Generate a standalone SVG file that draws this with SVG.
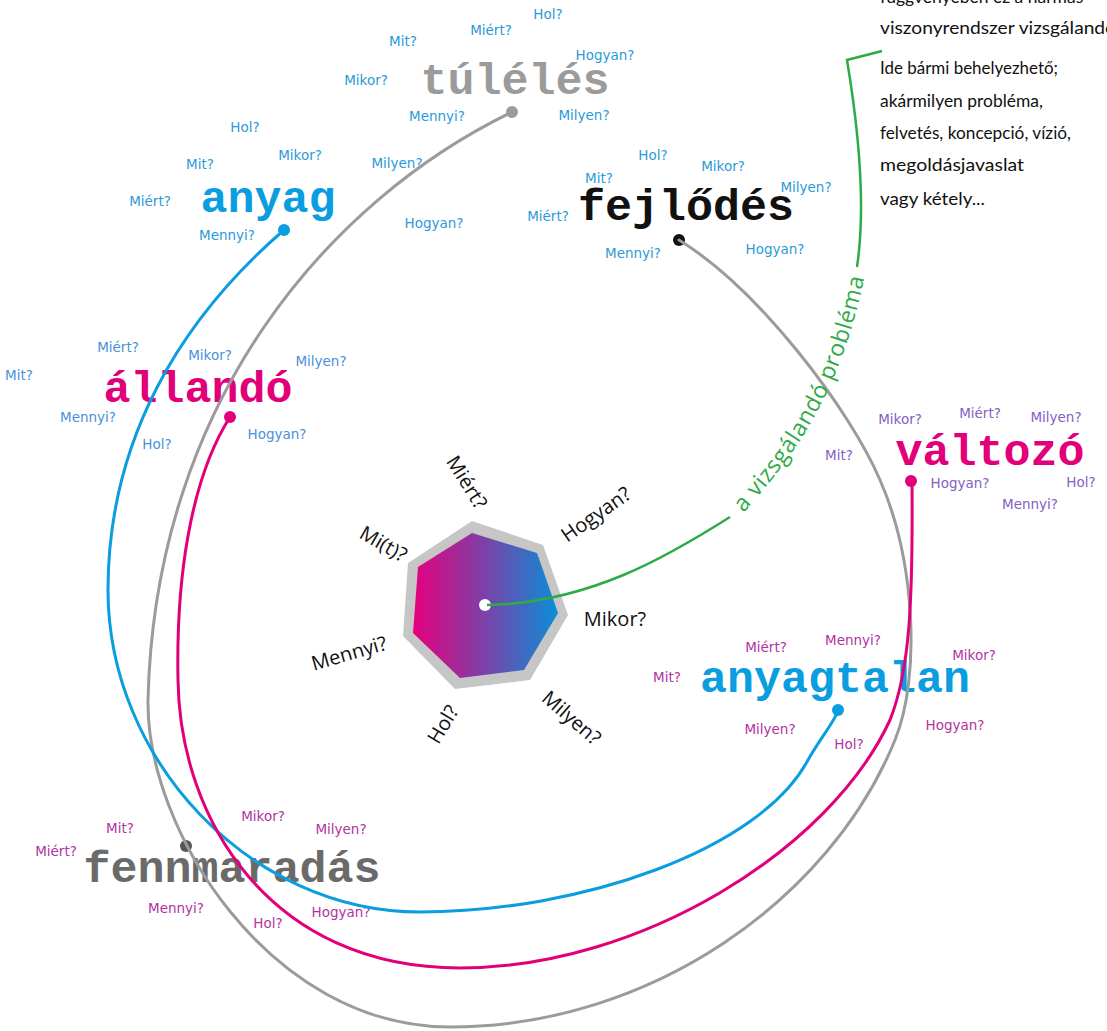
<svg xmlns="http://www.w3.org/2000/svg" width="1107" height="1031" viewBox="0 0 1107 1031">
<defs>
<linearGradient id="hubGrad" x1="0" y1="0" x2="1" y2="0">
<stop offset="0" stop-color="#e6007e"/>
<stop offset="0.5" stop-color="#7a42a8"/>
<stop offset="1" stop-color="#0a8ed8"/>
</linearGradient>
<path id="labelPath" d="M741,516 C 790,460 840,400 866,270"/>
</defs>
<style>
.node{font-family:"Liberation Mono","Courier New",monospace;font-weight:bold;font-size:45px;text-anchor:middle}
.q{font-family:"DejaVu Sans",sans-serif;font-size:13.5px;text-anchor:middle}
.qb{fill:#2b9ad8}
.qa{fill:#4a90d8}
.qv{fill:#8460c2}
.qm{fill:#b2339f}
.hq{font-family:"Open Sans",sans-serif;font-size:20px;fill:#111;text-anchor:middle}
.note{font-family:"Lato",sans-serif;font-size:17.5px;fill:#111}
.curve{fill:none;stroke-width:3;stroke-linecap:round}
.green{fill:none;stroke:#2eaa46;stroke-width:2.5}
</style>

<g id="hub">
<polygon points="472,521 543,545 568,615 530,680 455,689 403,636 408,563" fill="#c6c6c6"/>
<polygon points="472,533 537,553 558,613 524,670 460,678 413,633 418,567" fill="url(#hubGrad)"/>
<circle cx="485" cy="605" r="6" fill="#fff"/>
<text class="hq" transform="translate(461,486) rotate(58)">Miért?</text>
<text class="hq" transform="translate(600,520) rotate(-35)">Hogyan?</text>
<text class="hq" transform="translate(380,550) rotate(30)">Mi(t)?</text>
<text class="hq" transform="translate(615,626)">Mikor?</text>
<text class="hq" transform="translate(351,660) rotate(-16)">Mennyi?</text>
<text class="hq" transform="translate(449,728) rotate(-59)">Hol?</text>
<text class="hq" transform="translate(567,723) rotate(41)">Milyen?</text>
</g>

<g id="note">
<text class="note" x="880" y="3">függvényében ez a hármas</text>
<text class="note" x="880" y="34" textLength="236" lengthAdjust="spacingAndGlyphs">viszonyrendszer vizsgálandó</text>
<text class="note" x="880" y="74" textLength="178" lengthAdjust="spacingAndGlyphs">Ide bármi behelyezhető;</text>
<text class="note" x="880" y="107" textLength="163" lengthAdjust="spacingAndGlyphs">akármilyen probléma,</text>
<text class="note" x="880" y="139" textLength="191" lengthAdjust="spacingAndGlyphs">felvetés, koncepció, vízió,</text>
<text class="note" x="880" y="171" textLength="144" lengthAdjust="spacingAndGlyphs">megoldásjavaslat</text>
<text class="note" x="880" y="205" textLength="105" lengthAdjust="spacingAndGlyphs">vagy kétely...</text>
</g>

<g id="node-tuleles">
<text class="node" x="515" y="94" fill="#9b9b9b">túlélés</text>
<text class="q qb" x="548" y="19">Hol?</text>
<text class="q qb" x="491" y="35">Miért?</text>
<text class="q qb" x="403" y="46">Mit?</text>
<text class="q qb" x="605" y="60">Hogyan?</text>
<text class="q qb" x="366" y="85">Mikor?</text>
<text class="q qb" x="437" y="121">Mennyi?</text>
<text class="q qb" x="584" y="120">Milyen?</text>
<circle cx="512" cy="112" r="6" fill="#9b9b9b"/>
</g>

<g id="node-anyag">
<text class="node" x="268" y="212" fill="#0a9ee0">anyag</text>
<text class="q qb" x="245" y="132">Hol?</text>
<text class="q qb" x="200" y="169">Mit?</text>
<text class="q qb" x="300" y="160">Mikor?</text>
<text class="q qb" x="397" y="168">Milyen?</text>
<text class="q qb" x="150" y="206">Miért?</text>
<text class="q qb" x="227" y="240">Mennyi?</text>
<text class="q qb" x="434" y="228">Hogyan?</text>
<circle cx="284" cy="230" r="6" fill="#0a9ee0"/>
</g>

<g id="node-fejlodes">
<text class="node" x="686" y="220" fill="#111">fejlődés</text>
<text class="q qb" x="653" y="160">Hol?</text>
<text class="q qb" x="723" y="171">Mikor?</text>
<text class="q qb" x="599" y="183">Mit?</text>
<text class="q qb" x="806" y="192">Milyen?</text>
<text class="q qb" x="548" y="221">Miért?</text>
<text class="q qb" x="633" y="258">Mennyi?</text>
<text class="q qb" x="775" y="254">Hogyan?</text>
<circle cx="679" cy="240" r="6" fill="#111"/>
</g>

<g id="node-allando">
<text class="node" x="198" y="402" fill="#e2007a">állandó</text>
<text class="q qa" x="118" y="352">Miért?</text>
<text class="q qa" x="210" y="360">Mikor?</text>
<text class="q qa" x="321" y="366">Milyen?</text>
<text class="q qa" x="19" y="380">Mit?</text>
<text class="q qa" x="88" y="422">Mennyi?</text>
<text class="q qa" x="157" y="449">Hol?</text>
<text class="q qa" x="277" y="439">Hogyan?</text>
<circle cx="230" cy="417" r="6" fill="#e2007a"/>
</g>

<g id="node-valtozo">
<text class="node" x="990" y="465" fill="#e2007a">változó</text>
<text class="q qv" x="900" y="424">Mikor?</text>
<text class="q qv" x="980" y="418">Miért?</text>
<text class="q qv" x="1056" y="422">Milyen?</text>
<text class="q qv" x="839" y="460">Mit?</text>
<text class="q qv" x="960" y="488">Hogyan?</text>
<text class="q qv" x="1081" y="487">Hol?</text>
<text class="q qv" x="1030" y="509">Mennyi?</text>
<circle cx="911" cy="481" r="6" fill="#e2007a"/>
</g>

<g id="node-anyagtalan">
<text class="node" x="835" y="692" fill="#0a9ee0">anyagtalan</text>
<text class="q qm" x="766" y="652">Miért?</text>
<text class="q qm" x="853" y="645">Mennyi?</text>
<text class="q qm" x="974" y="660">Mikor?</text>
<text class="q qm" x="667" y="682">Mit?</text>
<text class="q qm" x="770" y="734">Milyen?</text>
<text class="q qm" x="849" y="749">Hol?</text>
<text class="q qm" x="955" y="730">Hogyan?</text>
<circle cx="838" cy="710" r="6" fill="#0a9ee0"/>
</g>

<g id="node-fennmaradas">
<text class="node" x="232" y="882" fill="#6a6a6a">fennmaradás</text>
<text class="q qm" x="120" y="833">Mit?</text>
<text class="q qm" x="56" y="856">Miért?</text>
<text class="q qm" x="263" y="821">Mikor?</text>
<text class="q qm" x="341" y="834">Milyen?</text>
<text class="q qm" x="176" y="913">Mennyi?</text>
<text class="q qm" x="268" y="928">Hol?</text>
<text class="q qm" x="341" y="917">Hogyan?</text>
<circle cx="186" cy="846" r="6" fill="#555"/>
</g>

<g id="connectors">
<path class="curve" stroke="#9b9b9b" d="M512,112 C 330,200 155,400 148,700 C 146,830 270,1027 450,1027 C 650,1027 830,900 895,740 C 921,676 915,560 880,480 C 850,410 760,290 679,240"/>
<path class="curve" stroke="#0a9ee0" d="M284,230 C 180,320 108,440 108,590 C 108,760 250,912 420,912 C 580,912 760,850 808,760 C 822,735 836,720 838,710"/>
<path class="curve" stroke="#e2007a" d="M230,417 C 190,480 176,580 178,680 C 180,820 270,968 460,968 C 640,968 830,850 890,720 C 910,670 913,600 912,482"/>
<path class="green" d="M487,605 C 590,603 670,555 730,517"/>
<path class="green" d="M857,267 C 864,220 862,150 847,60 L 882,51"/>
<text font-family="Open Sans, sans-serif" font-size="23" fill="#2eaa46"><textPath href="#labelPath" startOffset="4" textLength="268" lengthAdjust="spacing">a vizsgálandó probléma</textPath></text>
</g>
</svg>
